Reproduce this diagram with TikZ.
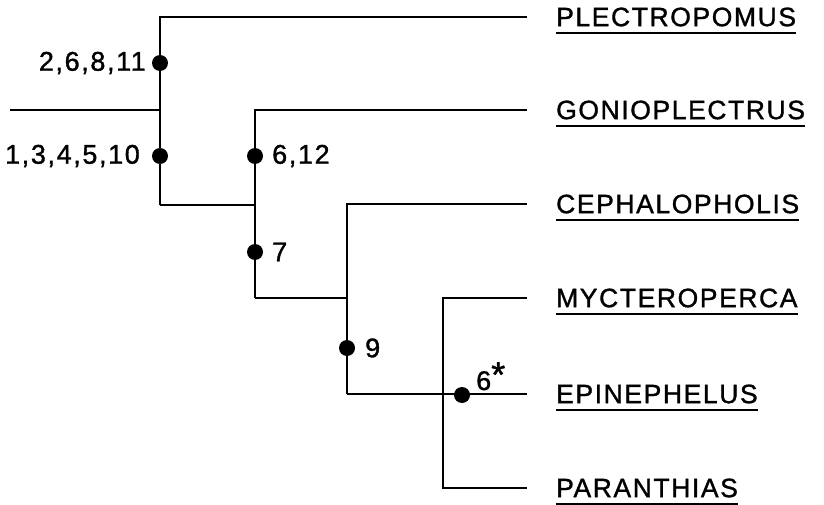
\documentclass[tikz,border=0pt]{standalone}
\usepackage{fontspec}
\setmainfont{Liberation Sans}[LetterSpace=6,FakeBold=1.2]
\begin{document}
\begin{tikzpicture}[x=1pt,y=-1pt,
  br/.style={line width=2.8pt,line cap=butt,line join=miter},
  tip/.style={br,shorten >=29pt},
  dot/.style={circle,fill=black,inner sep=0pt,minimum size=16pt},
  taxon/.style={anchor=west,inner sep=0pt,font=\fontsize{26.5}{26}\selectfont},
  num/.style={inner sep=0pt,font=\fontsize{27}{27}\selectfont},
  uline/.style={line width=2.2pt}]
\useasboundingbox (0,0) rectangle (824,505);
% taxa
\node[taxon] (plec) at (556,17)  {PLECTROPOMUS};
\node[taxon] (gon)  at (556,110) {GONIOPLECTRUS};
\node[taxon] (ceph) at (556,204) {CEPHALOPHOLIS};
\node[taxon] (myc)  at (556,298) {MYCTEROPERCA};
\node[taxon] (epi)  at (556,394) {EPINEPHELUS};
\node[taxon] (para) at (556,488) {PARANTHIAS};
\foreach \n in {plec,gon,ceph,myc,epi,para}
  \draw[uline] ([yshift=-7pt]\n.base west) -- ([yshift=-7pt]\n.base east);
% junctions
\coordinate (root) at (10,110);
\coordinate (ja) at (160,110);
\coordinate (a1) at (160,205);
\coordinate (b1) at (255,298);
\coordinate (c1) at (347,394);
\coordinate (d1) at (443,488);
% branches
\draw[br] (root) -- (ja);
\draw[tip] (a1) |- (plec.west);
\draw[br] (a1) -| (b1);
\draw[tip] (b1) |- (gon.west);
\draw[br] (b1) -| (c1);
\draw[tip] (c1) |- (ceph.west);
\draw[tip] (c1) -- (epi.west);
\draw[br,shorten <=29pt,shorten >=29pt] (myc.west) -| (d1) -- (para.west);
% character dots
\node[dot] (m1) at (160,63) {};
\node[dot] (m2) at (160,156) {};
\node[dot] (m3) at (255,156) {};
\node[dot] (m4) at (255,252) {};
\node[dot] (m5) at (347,348) {};
\node[dot] (m6) at (462,395) {};
\node[num,anchor=east] (l1) at (146,63) {2,6,8,11};
\node[num,anchor=east] (l2) at (140,156) {1,3,4,5,10};
\node[num,anchor=west] (l3) at (272,156) {6,12};
\node[num,anchor=west] (l4) at (272,252) {7};
\node[num,anchor=west] (l5) at (365,348) {9};
\node[num,anchor=base west] (l6) at (476,390) {6\raisebox{3pt}{\fontsize{36}{36}\selectfont *}};
\end{tikzpicture}
\end{document}
